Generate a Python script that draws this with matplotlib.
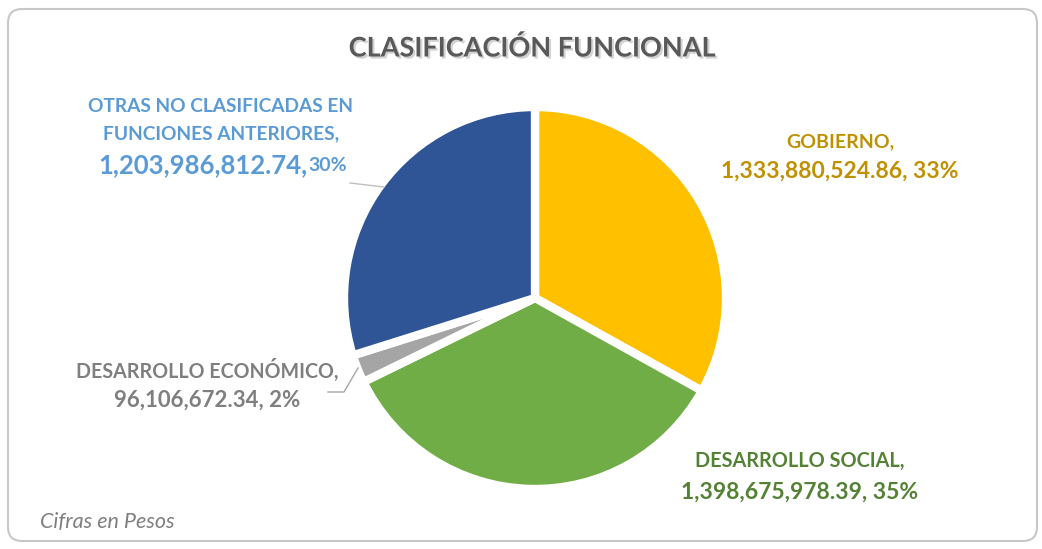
import numpy as np
import matplotlib.pyplot as plt
import matplotlib.patheffects as pe
from matplotlib.patches import FancyBboxPatch

plt.rcParams['font.family'] = ['Lato', 'DejaVu Sans']

# Datos
categorias = ['GOBIERNO', 'DESARROLLO SOCIAL', 'DESARROLLO ECONÓMICO',
              'OTRAS NO CLASIFICADAS EN FUNCIONES ANTERIORES']
montos = [1333880524.86, 1398675978.39, 96106672.34, 1203986812.74]
colores = ['#FFC000', '#70AD47', '#A5A5A5', '#2F5597']
colores_txt = ['#BF9000', '#548235', '#7F7F7F', '#5B9BD5']

W, H = 1042, 549
fig = plt.figure(figsize=(W / 100, H / 100), dpi=100)
ax = fig.add_axes([0, 0, 1, 1])
ax.set_xlim(0, W)
ax.set_ylim(0, H)
ax.axis('off')

def Y(y):
    # coordenada de imagen -> coordenada de eje
    return H - y

# marco redondeado
marco = FancyBboxPatch((8, Y(541)), 1029, 532, boxstyle='round,pad=0,rounding_size=14',
                       facecolor='white', edgecolor='#C8C8C8', linewidth=1.5)
ax.add_patch(marco)

total = sum(montos)
pct = [m / total * 100 for m in montos]

ax.pie(montos, colors=colores, startangle=90, counterclock=False,
       center=(535, Y(298)), radius=191,
       wedgeprops=dict(edgecolor='white', linewidth=6))
ax.set_xlim(0, W)
ax.set_ylim(0, H)
ax.set_aspect('auto')

# titulo
ax.text(532, Y(48), 'CLASIFICACIÓN FUNCIONAL', ha='center', va='center',
        fontsize=19.5, fontweight='bold', color='#595959',
        path_effects=[pe.SimplePatchShadow(offset=(1.5, -1.5), shadow_rgbFace='#909090', alpha=0.4),
                      pe.Normal()])

def fmt(v):
    return '{:,.2f}'.format(v)

# GOBIERNO
ax.text(840, Y(142), 'GOBIERNO,', ha='center', va='center', fontsize=14,
        fontweight='bold', color=colores_txt[0])
ax.text(840, Y(171), fmt(montos[0]) + ', ' + '{:.0f}%'.format(pct[0]), ha='center',
        va='center', fontsize=16.5, fontweight='bold', color=colores_txt[0])

# DESARROLLO SOCIAL
ax.text(800, Y(461), 'DESARROLLO SOCIAL,', ha='center', va='center', fontsize=14.3,
        fontweight='bold', color=colores_txt[1])
ax.text(800, Y(492), fmt(montos[1]) + ', ' + '{:.0f}%'.format(pct[1]), ha='center',
        va='center', fontsize=16.5, fontweight='bold', color=colores_txt[1])

# DESARROLLO ECONOMICO
ax.text(207, Y(370), 'DESARROLLO ECONÓMICO,', ha='center', va='center', fontsize=14.1,
        fontweight='bold', color=colores_txt[2])
ax.text(207, Y(400), fmt(montos[2]) + ', ' + '{:.0f}%'.format(pct[2]), ha='center',
        va='center', fontsize=16, fontweight='bold', color=colores_txt[2])
ax.plot([328, 344, 358], [Y(392), Y(392), Y(368)], color='#A6A6A6', linewidth=1)

# OTRAS
ax.text(221, Y(106), 'OTRAS NO CLASIFICADAS EN', ha='center', va='center', fontsize=13.8,
        fontweight='bold', color=colores_txt[3])
ax.text(221, Y(134), 'FUNCIONES ANTERIORES,', ha='center', va='center', fontsize=13.8,
        fontweight='bold', color=colores_txt[3])
t_num = ax.text(98, Y(165), fmt(montos[3]) + ',', ha='left', va='center', fontsize=18.5,
                fontweight='bold', color=colores_txt[3])
ax.annotate('{:.0f}%'.format(pct[3]), xy=(1, 0.12), xycoords=t_num, xytext=(1, 0),
            textcoords='offset points', ha='left', va='bottom', fontsize=14,
            fontweight='bold', color=colores_txt[3])
ax.plot([350, 384], [Y(183), Y(187)], color='#BFBFBF', linewidth=1)

# nota
ax.text(40, Y(522), 'Cifras en Pesos', ha='left', va='center', fontsize=15.5,
        style='italic', color='#7F7F7F')

fig.savefig('out.png', dpi=100)
